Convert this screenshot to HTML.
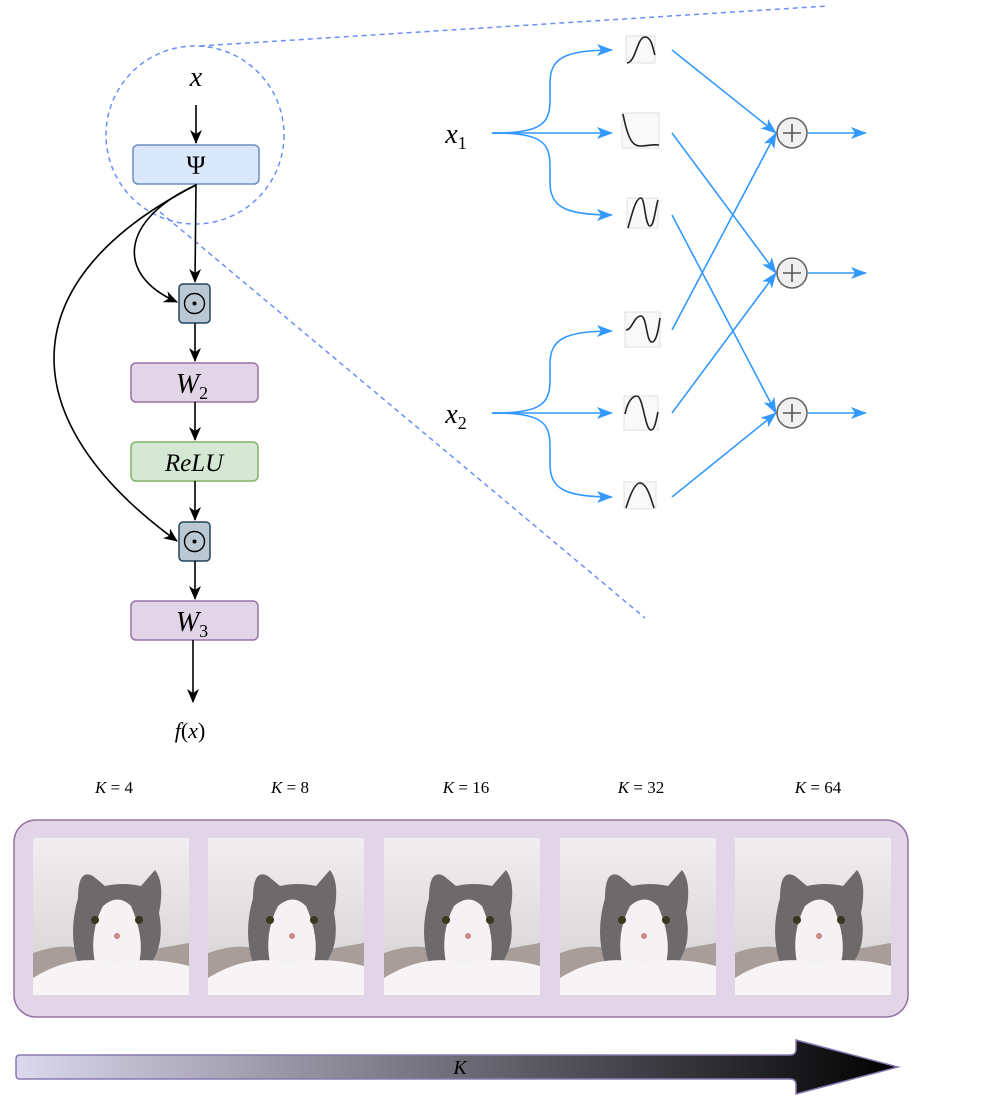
<!DOCTYPE html>
<html><head><style>body{margin:0;background:#fff}svg{display:block}</style></head><body>
<svg width="992" height="1106" viewBox="0 0 992 1106" xmlns="http://www.w3.org/2000/svg" font-family="Liberation Serif, serif">
<defs>
<marker id="ab" markerWidth="14" markerHeight="14" refX="13" refY="7" orient="auto" markerUnits="userSpaceOnUse"><path d="M0,1 L14,7 L0,13 L4,7z" fill="#000"/></marker>
<marker id="abl" markerWidth="16" markerHeight="12" refX="15" refY="6" orient="auto" markerUnits="userSpaceOnUse"><path d="M0,0 L16,6 L0,12 L4,6z" fill="#3399ff"/></marker>
<linearGradient id="g" x1="0" x2="1"><stop offset="0" stop-color="#dcd8ee"/><stop offset="1" stop-color="#000"/></linearGradient>
<linearGradient id="bg" x1="0" y1="0" x2="0" y2="1"><stop offset="0" stop-color="#f0eef0"/><stop offset="1" stop-color="#d4d0d0"/></linearGradient>
<g id="cat">
<rect x="0" y="0" width="156" height="157" fill="url(#bg)"/>
<path d="M0,115 Q40,100 70,120 L156,105 L156,157 L0,157z" fill="#a89d98"/>
<path d="M45,60 Q45,30 60,38 L72,48 Q90,44 108,48 L122,32 Q132,45 126,75 Q132,105 118,125 L45,125 Q35,95 45,60z" fill="#6e6a6c"/>
<path d="M70,68 Q85,55 98,68 Q112,100 106,125 L62,125 Q56,95 70,68z" fill="#f4f2f2"/>
<path d="M0,140 Q40,115 80,125 Q120,118 156,128 L156,157 L0,157z" fill="#f6f4f4"/>
<circle cx="62" cy="82" r="4" fill="#3a3520"/><circle cx="106" cy="82" r="4" fill="#3a3520"/>
<circle cx="84" cy="98" r="3" fill="#c98a8a"/>
</g>
</defs>
<circle cx="195" cy="135" r="89" fill="none" stroke="#6b8ff8" stroke-width="1.5" stroke-dasharray="5,4"/>
<line x1="200" y1="46" x2="828" y2="6" stroke="#6b8ff8" stroke-width="1.5" stroke-dasharray="5,4"/>
<line x1="160" y1="212" x2="645" y2="618" stroke="#6b8ff8" stroke-width="1.5" stroke-dasharray="5,4"/>
<text x="196" y="86" font-size="28" font-style="italic" text-anchor="middle">x</text>
<line x1="196" y1="105" x2="196" y2="143" stroke="#000" stroke-width="1.6" marker-end="url(#ab)"/>
<rect x="133" y="145" width="126" height="39" rx="5" fill="#dae8fc" stroke="#6c8ebf" stroke-width="1.5"/>
<text x="196" y="174" font-size="26" text-anchor="middle">Ψ</text>
<line x1="196" y1="184" x2="195" y2="282" stroke="#000" stroke-width="1.6" marker-end="url(#ab)"/>
<path d="M196,185 C120,220 115,275 177,302" fill="none" stroke="#000" stroke-width="1.6" marker-end="url(#ab)"/>
<path d="M196,185 C10,280 10,420 177,541" fill="none" stroke="#000" stroke-width="1.6" marker-end="url(#ab)"/>
<rect x="179" y="284" width="31" height="39" rx="4" fill="#bac8d3" stroke="#23445d" stroke-width="1.5"/>
<circle cx="194.5" cy="303.5" r="10" fill="none" stroke="#000" stroke-width="1.4"/><circle cx="194.5" cy="303.5" r="2" fill="#000"/>
<line x1="195" y1="323" x2="195" y2="361" stroke="#000" stroke-width="1.6" marker-end="url(#ab)"/>
<rect x="131" y="363" width="127" height="39" rx="5" fill="#e1d5e7" stroke="#9673a6" stroke-width="1.5"/>
<text x="192" y="393" font-size="28" font-style="italic" text-anchor="middle">W<tspan font-size="18" dy="6" font-style="normal">2</tspan></text>
<line x1="195" y1="402" x2="195" y2="440" stroke="#000" stroke-width="1.6" marker-end="url(#ab)"/>
<rect x="131" y="442" width="127" height="39" rx="5" fill="#d5e8d4" stroke="#82b366" stroke-width="1.5"/>
<text x="194" y="471" font-size="25" font-style="italic" text-anchor="middle">ReLU</text>
<line x1="195" y1="481" x2="195" y2="520" stroke="#000" stroke-width="1.6" marker-end="url(#ab)"/>
<rect x="179" y="522" width="31" height="39" rx="4" fill="#bac8d3" stroke="#23445d" stroke-width="1.5"/>
<circle cx="194.5" cy="541.5" r="10" fill="none" stroke="#000" stroke-width="1.4"/><circle cx="194.5" cy="541.5" r="2" fill="#000"/>
<line x1="195" y1="561" x2="195" y2="599" stroke="#000" stroke-width="1.6" marker-end="url(#ab)"/>
<rect x="131" y="601" width="127" height="39" rx="5" fill="#e1d5e7" stroke="#9673a6" stroke-width="1.5"/>
<text x="192" y="631" font-size="28" font-style="italic" text-anchor="middle">W<tspan font-size="18" dy="6" font-style="normal">3</tspan></text>
<line x1="193" y1="640" x2="193" y2="702" stroke="#000" stroke-width="1.6" marker-end="url(#ab)"/>
<text x="190" y="738" font-size="22" text-anchor="middle"><tspan font-style="italic">f</tspan>(<tspan font-style="italic">x</tspan>)</text>
<g fill="none" stroke="#3399ff" stroke-width="1.6">
<path d="M492,133 C540,133 550,125 550,100 L550,83 C550,58 565,50 612,50" marker-end="url(#abl)"/>
<path d="M492,133 L612,133" marker-end="url(#abl)"/>
<path d="M492,133 C540,133 550,141 550,166 L550,182 C550,207 565,215 612,215" marker-end="url(#abl)"/>
<path d="M492,413 C540,413 550,405 550,380 L550,364 C550,339 565,331 612,331" marker-end="url(#abl)"/>
<path d="M492,413 L612,413" marker-end="url(#abl)"/>
<path d="M492,413 C540,413 550,421 550,446 L550,464 C550,489 565,497 612,497" marker-end="url(#abl)"/>
<path d="M672,50 L776,133" marker-end="url(#abl)"/>
<path d="M672,133 L776,273" marker-end="url(#abl)"/>
<path d="M672,215 L776,413" marker-end="url(#abl)"/>
<path d="M672,330 L776,133" marker-end="url(#abl)"/>
<path d="M672,413 L776,273" marker-end="url(#abl)"/>
<path d="M672,497 L776,413" marker-end="url(#abl)"/>
<path d="M808,133 L866,133" marker-end="url(#abl)"/>
<path d="M808,273 L866,273" marker-end="url(#abl)"/>
<path d="M808,413 L866,413" marker-end="url(#abl)"/>
</g>
<text x="456" y="143" font-size="28" font-style="italic" text-anchor="middle">x<tspan font-size="18" dy="6" font-style="normal">1</tspan></text>
<text x="456" y="423" font-size="28" font-style="italic" text-anchor="middle">x<tspan font-size="18" dy="6" font-style="normal">2</tspan></text>
<g fill="#f9f9f9" stroke="#ccc" stroke-width="0.6">
<rect x="626" y="36" width="29" height="27"/><rect x="622" y="113" width="37" height="35"/><rect x="627" y="198" width="31" height="30"/>
<rect x="625" y="312" width="35" height="35"/><rect x="624" y="396" width="34" height="34"/><rect x="624" y="482" width="32" height="27"/>
</g>
<g fill="none" stroke="#222" stroke-width="1.6">
<path d="M627,63 C636,62 637,37 645,37 C652,37 653,50 655,55"/>
<path d="M623,114 C628,140 633,146 640,146 C648,146 652,144 659,145"/>
<path d="M628,228 C633,210 636,198 641,198 C645,198 645,226 650,226 C654,226 655,210 658,200"/>
<path d="M626,330 C632,330 634,316 641,316 C647,316 646,342 652,342 C657,342 659,325 660,318"/>
<path d="M625,414 C628,400 633,396 637,396 C643,396 645,430 651,430 C655,430 656,420 658,412"/>
<path d="M626,508 C630,495 635,483 640,483 C646,483 650,495 654,508"/>
</g>
<g fill="#f0f0f0" stroke="#666" stroke-width="1.6">
<circle cx="792" cy="133" r="15"/><circle cx="792" cy="273" r="15"/><circle cx="792" cy="413" r="15"/>
</g>
<g stroke="#555" stroke-width="1.6">
<path d="M783,133 H801 M792,124 V142"/><path d="M783,273 H801 M792,264 V282"/><path d="M783,413 H801 M792,404 V422"/>
</g>
<g font-size="17" text-anchor="middle">
<text x="114" y="793"><tspan font-style="italic">K</tspan> = 4</text>
<text x="290" y="793"><tspan font-style="italic">K</tspan> = 8</text>
<text x="466" y="793"><tspan font-style="italic">K</tspan> = 16</text>
<text x="641" y="793"><tspan font-style="italic">K</tspan> = 32</text>
<text x="818" y="793"><tspan font-style="italic">K</tspan> = 64</text>
</g>
<rect x="14" y="820" width="894" height="197" rx="22" fill="#e1d5e7" stroke="#9673a6" stroke-width="1.5"/>
<use href="#cat" x="33" y="838"/><use href="#cat" x="208" y="838"/><use href="#cat" x="384" y="838"/><use href="#cat" x="560" y="838"/><use href="#cat" x="735" y="838"/>
<path d="M20,1055 L790,1055 Q796,1055 796,1049 L796,1040 L898,1067 L796,1094 L796,1085 Q796,1079 790,1079 L20,1079 Q16,1079 16,1075 L16,1059 Q16,1055 20,1055z" fill="url(#g)" stroke="#8a78b0" stroke-width="1.5"/>
<text x="460" y="1074" font-size="20" font-style="italic" text-anchor="middle">K</text>
</svg>
</body></html>
